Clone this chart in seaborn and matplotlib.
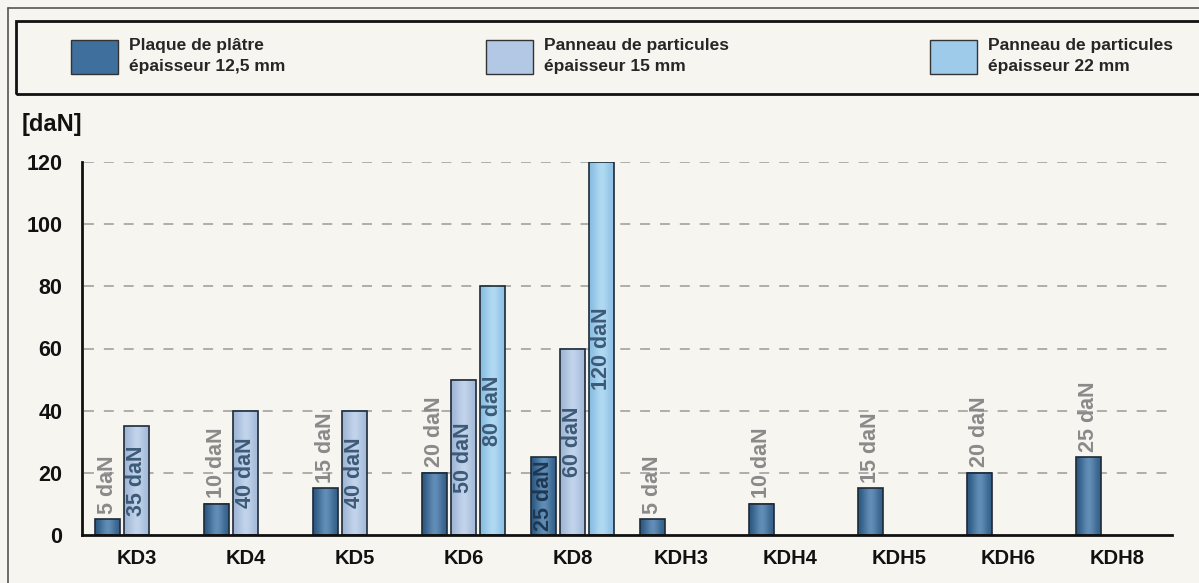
import numpy as np
import pandas as pd
import matplotlib
matplotlib.use("Agg")
import matplotlib.pyplot as plt
import matplotlib.patches as mpatches
from matplotlib.lines import Line2D
from matplotlib.colors import LinearSegmentedColormap
from matplotlib.ticker import FixedLocator
import seaborn as sns

# data
categories = ["KD3", "KD4", "KD5", "KD6", "KD8", "KDH3", "KDH4", "KDH5", "KDH6", "KDH8"]
materials = ["Plaque de plâtre\népaisseur 12,5 mm",
             "Panneau de particules\népaisseur 15 mm",
             "Panneau de particules\népaisseur 22 mm"]
platre_12 = [5, 10, 15, 20, 25, 5, 10, 15, 20, 25]
particules_15 = [35, 40, 40, 50, 60, None, None, None, None, None]
particules_22 = [None, None, None, 80, 120, None, None, None, None, None]
y_ticks = [0, 20, 40, 60, 80, 100, 120]
unit_label = "[daN]"
inside_dark_labels = ["KD8"]

colors = ["#3f6f9c", "#b2c8e4", "#9fcbea"]
# edge / centre shades for the bar gradient
shades = [("#2c5882", "#6592bb"), ("#9fb6d6", "#c4d6ec"), ("#88bde3", "#b4dcf3")]
bg = "#f6f5f0"

rows = []
for mat, series in zip(materials, [platre_12, particules_15, particules_22]):
    for cat, val in zip(categories, series):
        if val is not None:
            rows.append({"cat": cat, "mat": mat, "val": val})
df = pd.DataFrame(rows)

sns.set_theme(style="white")
plt.rcParams["font.family"] = ["Liberation Sans", "DejaVu Sans"]

fig = plt.figure(figsize=(11.99, 5.83), dpi=100, facecolor=bg)
ax = fig.add_axes([82 / 1199, 1 - 535 / 583, 1090 / 1199, (535 - 162) / 583])
ax.set_facecolor(bg)

sns.barplot(data=df, x="cat", y="val", hue="mat", order=categories, hue_order=materials,
            palette=colors, width=0.8, gap=0.15, edgecolor="#1e2a36", linewidth=1.2,
            legend=False, ax=ax, saturation=1)

xlim = (-0.5, len(categories) - 0.5)
ylim = (0, 120)

# soft horizontal gradient inside each bar, edge stays on top
grad = np.array([[0.0, 0.35, 0.7, 1.0, 0.8, 0.45, 0.15]])
for level, cont in enumerate(ax.containers):
    cmap = LinearSegmentedColormap.from_list(f"g{level}", list(shades[level]))
    for bar in cont:
        h = bar.get_height()
        if not h or h != h:
            continue
        x0 = bar.get_x()
        ax.imshow(grad, cmap=cmap, aspect="auto", interpolation="bicubic",
                  extent=(x0, x0 + bar.get_width(), 0, h), zorder=1.9)
        bar.set_facecolor("none")
        bar.set_zorder(2)

ax.set_xlim(*xlim)
ax.set_ylim(*ylim)
ax.set_xlabel("")
ax.set_ylabel("")

# grid
for t in y_ticks[1:]:
    ax.axhline(t, xmin=0.002, xmax=0.998, color="#9a9a9a", lw=1.1, ls=(0, (6.5, 6.5)), zorder=0)

for s in ["top", "right"]:
    ax.spines[s].set_visible(False)
for s in ["left", "bottom"]:
    ax.spines[s].set_color("#111111")
    ax.spines[s].set_linewidth(2)
    ax.spines[s].set_zorder(3)

ax.set_yticks(y_ticks)
ax.set_yticklabels([str(t) for t in y_ticks], fontsize=15.5, fontweight="bold", color="#111111")
ax.tick_params(axis="y", length=0, pad=14)
ax.set_xticks(range(len(categories)))
ax.set_xticklabels(categories, fontsize=14.5, fontweight="bold", color="#111111")
ax.tick_params(axis="x", which="major", length=0, pad=10)
ax.xaxis.set_minor_locator(FixedLocator([i + 0.5 for i in range(len(categories))]))
ax.tick_params(axis="x", which="minor", direction="inout", length=9, width=1.6, color="#111111")

# value labels
for level, cont in enumerate(ax.containers):
    for bar in cont:
        h = bar.get_height()
        if not h or h != h:
            continue
        xc = bar.get_x() + bar.get_width() / 2
        idx = int(round(xc))
        txt = f"{int(h)} daN"
        if level == 0 and categories[idx] not in inside_dark_labels:
            ax.annotate(txt, (xc, h), xytext=(0, 4), textcoords="offset points",
                        rotation=90, ha="center", va="bottom", fontsize=15.5,
                        fontweight="bold", color="#8a8a8a", zorder=4)
        else:
            col = "#1f3852" if level == 0 else "#3d5b78"
            ax.text(xc, h / 2, txt, rotation=90, ha="center", va="center",
                    fontsize=15.5, fontweight="bold", color=col, zorder=4)

fig.text(22 / 1199, 1 - 125 / 583, unit_label, fontsize=17, fontweight="bold",
         color="#111111", ha="left", va="center")

# outer frame and legend box
fig.add_artist(Line2D([8 / 1199, 8 / 1199], [0, 1 - 8 / 583], color="#555555", lw=1.2))
fig.add_artist(Line2D([8 / 1199, 1], [1 - 8 / 583, 1 - 8 / 583], color="#555555", lw=1.2))
fig.add_artist(mpatches.Rectangle((16 / 1199, 1 - 94 / 583), 1.0, 73 / 583, fill=False,
                                  edgecolor="#111111", lw=2, transform=fig.transFigure))

handles = [mpatches.Patch(facecolor=c, edgecolor="#333333", lw=1) for c in colors]
leg = fig.legend(handles, materials, loc="center", ncol=3, mode="expand", frameon=False,
                 bbox_to_anchor=(71 / 1199, 1 - 80 / 583, 1102 / 1199, 48 / 583),
                 borderaxespad=0, borderpad=0, handlelength=2.7, handleheight=2.6,
                 handletextpad=0.65,
                 prop={"family": ["Liberation Sans"], "weight": "bold", "size": 12.5})
for t in leg.get_texts():
    t.set_linespacing(1.45)

fig.savefig("out.png", dpi=100, facecolor=bg)
